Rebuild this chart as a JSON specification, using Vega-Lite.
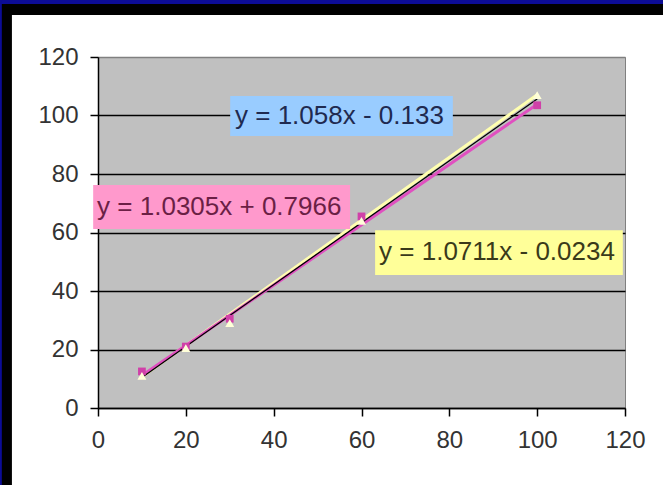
{
  "$schema": "https://vega.github.io/schema/vega-lite/v6.json",
  "width": 527,
  "height": 351,
  "autosize": {"type": "none"},
  "padding": {"left": 98, "top": 57, "right": 38, "bottom": 77},
  "background": "white",
  "config": {
    "view": {"fill": "#c0c0c0", "stroke": "#808080", "strokeWidth": 1},
    "font": "Liberation Sans"
  },
  "datasets": {
    "frame": [
      {"part": "border", "x": -25, "x2": -19.6, "y": -30, "y2": 142},
      {"part": "border", "x": -25, "x2": 130, "y": 134.4, "y2": 142},
      {"part": "band", "x": -25, "x2": 130, "y": 138.1, "y2": 142},
      {"part": "band", "x": -25, "x2": -21.9, "y": -30, "y2": 142}
    ],
    "trend": [
      {"s": "yellow", "x": 10, "y": 10.69},
      {"s": "yellow", "x": 100, "y": 107.09},
      {"s": "pink", "x": 10, "y": 11.1},
      {"s": "pink", "x": 100, "y": 103.85},
      {"s": "blue", "x": 10, "y": 10.45},
      {"s": "blue", "x": 100, "y": 105.67}
    ],
    "points": [
      {"s": "pink", "x": 10, "y": 12.5},
      {"s": "pink", "x": 20, "y": 21},
      {"s": "pink", "x": 30, "y": 30.5},
      {"s": "pink", "x": 60, "y": 65.5},
      {"s": "pink", "x": 100, "y": 103.5},
      {"s": "yellow", "x": 10, "y": 11},
      {"s": "yellow", "x": 20, "y": 20.5},
      {"s": "yellow", "x": 30, "y": 29},
      {"s": "yellow", "x": 60, "y": 64},
      {"s": "yellow", "x": 100, "y": 107}
    ],
    "labels": [
      {"s": "blue", "t": "y = 1.058x - 0.133", "x": 30.1, "x2": 80.8, "y": 106.7, "y2": 93.0, "tx": 31.2, "ty": 99.8},
      {"s": "pink", "t": "y = 1.0305x + 0.7966", "x": -1.1, "x2": 57.4, "y": 76.2, "y2": 61.2, "tx": -0.2, "ty": 68.7},
      {"s": "yellow", "t": "y = 1.0711x - 0.0234", "x": 63.1, "x2": 119.5, "y": 60.8, "y2": 45.5, "tx": 64.0, "ty": 53.3}
    ]
  },
  "layer": [
    {
      "data": {"name": "frame"},
      "transform": [{"filter": "datum.part === 'border'"}],
      "mark": {"type": "rect", "fill": "#000000"},
      "encoding": {
        "x": {
          "field": "x", "type": "quantitative",
          "scale": {"domain": [0, 120], "nice": false, "zero": false},
          "axis": {
            "values": [0, 20, 40, 60, 80, 100, 120],
            "grid": false, "title": null,
            "domainColor": "#000000", "domainWidth": 1.5,
            "tickColor": "#000000", "tickWidth": 1.5, "tickSize": 8,
            "labelFontSize": 24, "labelColor": "#333333", "labelPadding": 12,
            "labelFont": "Liberation Sans", "labelFlush": false, "labelOverlap": false, "labelBound": false
          }
        },
        "x2": {"field": "x2"},
        "y": {
          "field": "y", "type": "quantitative",
          "scale": {"domain": [0, 120], "nice": false, "zero": false},
          "axis": {
            "values": [0, 20, 40, 60, 80, 100, 120],
            "grid": true,
            "gridColor": {"condition": {"test": "datum.value >= 120", "value": "#808080"}, "value": "#000000"},
            "gridWidth": 1.5, "gridOpacity": 1,
            "title": null,
            "domainColor": "#000000", "domainWidth": 1.5,
            "tickColor": "#000000", "tickWidth": 1.5, "tickSize": 8,
            "labelFontSize": 24, "labelColor": "#333333", "labelPadding": 12,
            "labelFont": "Liberation Sans", "labelOverlap": false, "labelBound": false
          }
        },
        "y2": {"field": "y2"}
      }
    },
    {
      "data": {"name": "frame"},
      "transform": [{"filter": "datum.part === 'band'"}],
      "mark": {"type": "rect", "fill": "#0c0c96"},
      "encoding": {
        "x": {"field": "x", "type": "quantitative"},
        "x2": {"field": "x2"},
        "y": {"field": "y", "type": "quantitative"},
        "y2": {"field": "y2"}
      }
    },
    {
      "data": {"name": "trend"},
      "transform": [{"filter": "datum.s === 'yellow'"}],
      "mark": {"type": "line", "color": "#ffffb0", "strokeWidth": 3},
      "encoding": {
        "x": {"field": "x", "type": "quantitative"},
        "y": {"field": "y", "type": "quantitative"}
      }
    },
    {
      "data": {"name": "trend"},
      "transform": [{"filter": "datum.s === 'pink'"}],
      "mark": {"type": "line", "color": "#e050c0", "strokeWidth": 3},
      "encoding": {
        "x": {"field": "x", "type": "quantitative"},
        "y": {"field": "y", "type": "quantitative"}
      }
    },
    {
      "data": {"name": "trend"},
      "transform": [{"filter": "datum.s === 'blue'"}],
      "mark": {"type": "line", "color": "#000000", "strokeWidth": 1.3},
      "encoding": {
        "x": {"field": "x", "type": "quantitative"},
        "y": {"field": "y", "type": "quantitative"}
      }
    },
    {
      "data": {"name": "points"},
      "transform": [{"filter": "datum.s === 'pink'"}],
      "mark": {"type": "point", "shape": "square", "filled": true, "color": "#d040a8", "size": 60, "opacity": 1},
      "encoding": {
        "x": {"field": "x", "type": "quantitative"},
        "y": {"field": "y", "type": "quantitative"}
      }
    },
    {
      "data": {"name": "points"},
      "transform": [{"filter": "datum.s === 'yellow'"}],
      "mark": {"type": "point", "shape": "triangle-up", "filled": true, "color": "#ffffd8", "size": 80, "opacity": 1},
      "encoding": {
        "x": {"field": "x", "type": "quantitative"},
        "y": {"field": "y", "type": "quantitative"}
      }
    },
    {
      "data": {"name": "labels"},
      "transform": [{"filter": "datum.s === 'blue'"}],
      "mark": {"type": "rect", "fill": "#99ccff"},
      "encoding": {
        "x": {"field": "x", "type": "quantitative"},
        "x2": {"field": "x2"},
        "y": {"field": "y", "type": "quantitative"},
        "y2": {"field": "y2"}
      }
    },
    {
      "data": {"name": "labels"},
      "transform": [{"filter": "datum.s === 'pink'"}],
      "mark": {"type": "rect", "fill": "#ff99cc"},
      "encoding": {
        "x": {"field": "x", "type": "quantitative"},
        "x2": {"field": "x2"},
        "y": {"field": "y", "type": "quantitative"},
        "y2": {"field": "y2"}
      }
    },
    {
      "data": {"name": "labels"},
      "transform": [{"filter": "datum.s === 'yellow'"}],
      "mark": {"type": "rect", "fill": "#ffff99"},
      "encoding": {
        "x": {"field": "x", "type": "quantitative"},
        "x2": {"field": "x2"},
        "y": {"field": "y", "type": "quantitative"},
        "y2": {"field": "y2"}
      }
    },
    {
      "data": {"name": "labels"},
      "transform": [{"filter": "datum.s === 'blue'"}],
      "mark": {"type": "text", "align": "left", "baseline": "middle", "fontSize": 26, "font": "Liberation Sans", "color": "#1f2a50"},
      "encoding": {
        "x": {"field": "tx", "type": "quantitative"},
        "y": {"field": "ty", "type": "quantitative"},
        "text": {"field": "t"}
      }
    },
    {
      "data": {"name": "labels"},
      "transform": [{"filter": "datum.s === 'pink'"}],
      "mark": {"type": "text", "align": "left", "baseline": "middle", "fontSize": 26, "font": "Liberation Sans", "color": "#6b1f45"},
      "encoding": {
        "x": {"field": "tx", "type": "quantitative"},
        "y": {"field": "ty", "type": "quantitative"},
        "text": {"field": "t"}
      }
    },
    {
      "data": {"name": "labels"},
      "transform": [{"filter": "datum.s === 'yellow'"}],
      "mark": {"type": "text", "align": "left", "baseline": "middle", "fontSize": 26, "font": "Liberation Sans", "color": "#3a3a1a"},
      "encoding": {
        "x": {"field": "tx", "type": "quantitative"},
        "y": {"field": "ty", "type": "quantitative"},
        "text": {"field": "t"}
      }
    }
  ]
}
